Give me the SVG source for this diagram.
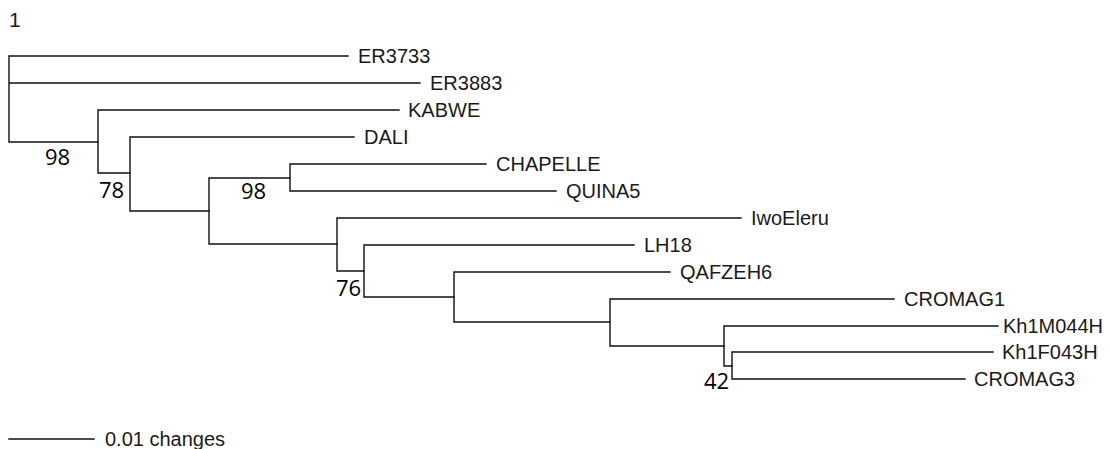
<svg xmlns="http://www.w3.org/2000/svg" width="1110" height="449" viewBox="0 0 1110 449">
<style>
.br{fill:none;stroke:#111;stroke-width:1.4;stroke-linecap:square}
.lab{font-family:"Liberation Sans",Arial,sans-serif;font-size:20px;fill:#1a1a1a}
.bs{font-family:"Open Sans","Noto Sans",sans-serif;font-size:22px;fill:#000}
</style>
<rect width="1110" height="449" fill="#fff"/>
<text x="9" y="27" class="lab" style="font-size:21px">1</text>
<g id="connectors">
<path class="br" d="M9,56V142M9,56H348M9,83H420M9,142H98"/>
<path class="br" d="M98,110V173M98,110H399M98,173H130"/>
<path class="br" d="M130,137V211M130,137H354M130,211H209"/>
<path class="br" d="M209,178V244M209,178H290M209,244H337"/>
<path class="br" d="M290,164V191M290,164H486M290,191H556"/>
<path class="br" d="M337,218V271M337,218H741M337,271H364"/>
<path class="br" d="M364,245V297M364,245H634M364,297H454"/>
<path class="br" d="M454,272V322M454,272H670M454,322H610"/>
<path class="br" d="M610,299V346M610,299H894M610,346H724"/>
<path class="br" d="M724,326V366M724,326H998M724,366H732"/>
<path class="br" d="M732,352V379M732,352H993M732,379H965"/>
</g>
<g id="ER3733"><text x="358" y="63" class="lab">ER3733</text></g>
<g id="ER3883"><text x="430" y="90" class="lab">ER3883</text></g>
<g id="KABWE"><text x="408" y="117" class="lab">KABWE</text></g>
<g id="DALI"><text x="364" y="144" class="lab">DALI</text></g>
<g id="CHAPELLE"><text x="496" y="171" class="lab">CHAPELLE</text></g>
<g id="QUINA5"><text x="566" y="198" class="lab">QUINA5</text></g>
<g id="IwoEleru"><text x="751" y="225" class="lab">IwoEleru</text></g>
<g id="LH18"><text x="644" y="252" class="lab">LH18</text></g>
<g id="QAFZEH6"><text x="680" y="279" class="lab">QAFZEH6</text></g>
<g id="CROMAG1"><text x="904" y="306" class="lab">CROMAG1</text></g>
<g id="Kh1M044H"><text x="1003" y="333" class="lab">Kh1M044H</text></g>
<g id="Kh1F043H"><text x="1002" y="359" class="lab">Kh1F043H</text></g>
<g id="CROMAG3"><text x="974" y="386" class="lab">CROMAG3</text></g>
<g id="support">
<text x="45" y="165" class="bs">98</text>
<text x="99" y="198" class="bs">78</text>
<text x="241" y="199" class="bs">98</text>
<text x="336" y="296" class="bs">76</text>
<text x="704" y="389" class="bs">42</text>
</g>
<g id="scalebar">
<path class="br" d="M9,439H94"/>
<text x="105" y="446" class="lab">0.01 changes</text>
</g>
</svg>
